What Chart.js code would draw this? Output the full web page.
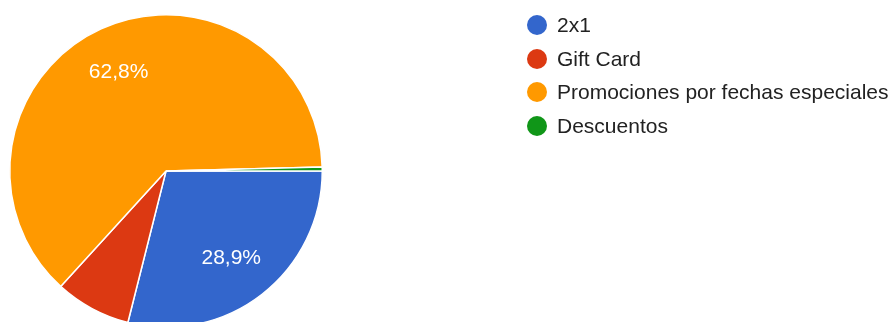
<!DOCTYPE html>
<html>
<head>
<meta charset="utf-8">
<script src="https://cdn.jsdelivr.net/npm/chart.js@4"></script>
<style>
  html, body { margin: 0; padding: 0; background: #fff; overflow: hidden; }
  #wrap { position: relative; width: 889px; height: 322px; overflow: hidden; }
  #box { position: absolute; left: 0; top: 0; width: 889px; height: 350px; }
  #legend { position: absolute; left: 527px; top: 8px; margin: 0; padding: 0; list-style: none;
            font-family: "Liberation Sans", Arial, Helvetica, sans-serif; font-size: 21px; color: #222; }
  #legend li { height: 33.7px; display: flex; align-items: center; white-space: nowrap; }
  #legend span { display: inline-block; width: 20px; height: 20px; border-radius: 50%; margin-right: 10px; }
</style>
</head>
<body>
<div id="wrap">
  <div id="box"><canvas id="myChart"></canvas></div>
  <ul id="legend"></ul>
</div>
<script>
const labels = ["2x1", "Gift Card", "Promociones por fechas especiales", "Descuentos"];
const responses = [70, 19, 152, 1];
const colors = ["#3366cc", "#dc3912", "#ff9900", "#109618"];

// build the legend list from the same arrays
const legend = document.getElementById("legend");
labels.forEach((name, i) => {
  const li = document.createElement("li");
  const dot = document.createElement("span");
  dot.style.background = colors[i];
  li.appendChild(dot);
  li.appendChild(document.createTextNode(name));
  legend.appendChild(li);
});

// percent text inside the bigger slices
const sliceText = {
  id: "sliceText",
  afterDatasetsDraw(chart) {
    const ctx = chart.ctx;
    const meta = chart.getDatasetMeta(0);
    const total = responses.reduce((a, b) => a + b, 0);
    ctx.save();
    ctx.fillStyle = "#ffffff";
    ctx.font = "21px 'Liberation Sans', Arial, sans-serif";
    ctx.textAlign = "center";
    ctx.textBaseline = "middle";
    meta.data.forEach((arc, i) => {
      const pct = responses[i] / total * 100;
      if (pct < 10) return;
      const mid = (arc.startAngle + arc.endAngle) / 2;
      const r = arc.outerRadius * 0.7;
      const text = pct.toFixed(1).replace(".", ",") + "%";
      ctx.fillText(text, arc.x + Math.cos(mid) * r - 2, arc.y + Math.sin(mid) * r + 1);
    });
    ctx.restore();
  },
};

const data = {
  labels: labels,
  datasets: [
    {
      data: responses,
      backgroundColor: colors,
      borderColor: "#ffffff",
      borderWidth: 1.5,
    },
  ],
};

const config = {
  type: "pie",
  data: data,
  options: {
    responsive: true,
    maintainAspectRatio: false,
    animation: false,
    rotation: 90,
    layout: {
      padding: { left: 9, top: 14, right: 566, bottom: 22 },
    },
    plugins: {
      legend: { display: false },
      tooltip: { enabled: false },
    },
  },
  plugins: [sliceText],
};

const myChart = new Chart(document.getElementById("myChart"), config);
</script>
</body>
</html>
